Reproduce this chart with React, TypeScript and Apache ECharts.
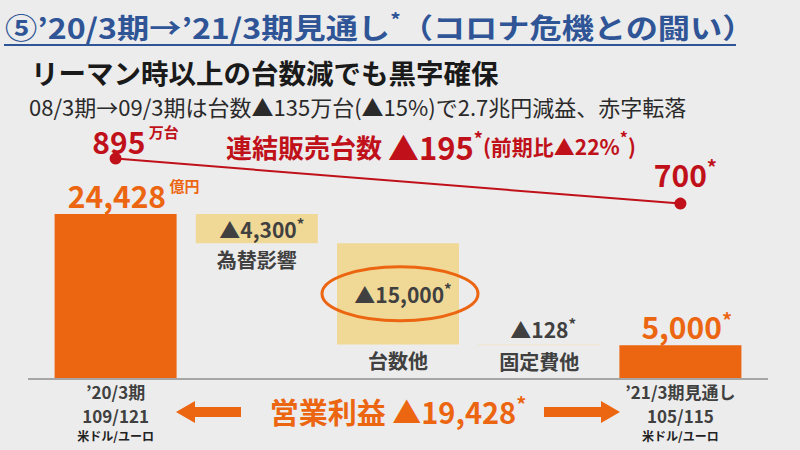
import React, { useEffect, useRef } from "react";
import * as echarts from "echarts";

const categories = ["’20/3期", "為替影響", "台数他", "固定費他", "’21/3期見通し"];
const rates = ["109/121", "", "", "", "105/115"];
const baseValues = [0, 20128, 5128, 5000, 0];
const deltaValues = [24428, 4300, 15000, 128, 5000];
const barLabels = ["24,428", "▲4,300", "▲15,000", "▲128", "5,000"];
const unitSales = [895, null, null, null, 700];
const unitLabels = ["895", "", "", "", "700"];

const ORANGE = "#EC6511";
const YELLOW = "#F0D896";
const RED = "#C0111A";
const BLUE = "#2F5597";
const GRAY = "#404040";
const FONT = "'Noto Sans CJK JP', 'Noto Sans', sans-serif";

export default function App() {
  const ref = useRef<HTMLDivElement>(null);
  useEffect(() => {
    document.body.style.margin = "0";
    const chart = echarts.init(ref.current!, null, { renderer: "svg" });
    const valueRich = {
      v: { fontSize: 21, fontWeight: "bold", color: GRAY, lineHeight: 26, fontFamily: FONT },
      s: { fontSize: 15, fontWeight: "bold", color: GRAY, verticalAlign: "top", lineHeight: 26, fontFamily: FONT },
      o: { fontSize: 30, fontWeight: "bold", color: ORANGE, lineHeight: 34, fontFamily: FONT },
      ou: { fontSize: 15, fontWeight: "bold", color: ORANGE, verticalAlign: "top", lineHeight: 34, fontFamily: FONT },
      q: { fontSize: 20, fontWeight: "bold", color: ORANGE, verticalAlign: "top", lineHeight: 34, fontFamily: FONT },
    };
    const deltaData = deltaValues.map((v, i) => {
      const isEnd = i === 0 || i === 4;
      const item: any = {
        value: v,
        itemStyle: { color: isEnd ? ORANGE : i === 3 ? "#F3E3C0" : YELLOW },
        label: { show: true, fontFamily: FONT, rich: valueRich },
      };
      if (i === 0) {
        item.label.position = "top";
        item.label.distance = 2;
        item.label.offset = [18, 0];
        item.label.formatter = `{o|${barLabels[i]}}{ou| 億円}`;
      } else if (i === 4) {
        item.label.position = "top";
        item.label.distance = 2;
        item.label.align = "left";
        item.label.offset = [-39, 0];
        item.label.formatter = `{o|${barLabels[i]}}{q|*}`;
      } else if (i === 3) {
        item.label.position = "top";
        item.label.distance = 2;
        item.label.offset = [4, 0];
        item.label.formatter = `{v|${barLabels[i]}}{s|*}`;
      } else {
        item.label.position = "inside";
        item.label.offset = [5, 0];
        item.label.formatter = `{v|${barLabels[i]}}{s|*}`;
      }
      return item;
    });
    const baseData = baseValues.map((v, i) => ({
      value: v,
      label: {
        show: i > 0 && i < 4,
        position: "insideTop",
        distance: 6,
        formatter: categories[i],
        fontSize: 20,
        fontWeight: "bold",
        color: GRAY,
        fontFamily: FONT,
      },
    }));
    const lineData = unitSales.map((v, i) => ({
      value: v,
      label: {
        show: v != null,
        position: "top",
        distance: 4,
        offset: i === 0 ? [20, 9] : [5, -3],
        formatter: i === 0 ? `{n|${unitLabels[i]}}{u| 万台}` : `{n|${unitLabels[i]}}{s|*}`,
        rich: {
          n: { fontSize: 30, fontWeight: "bold", color: RED, lineHeight: 34, fontFamily: FONT },
          u: { fontSize: 15, fontWeight: "bold", color: RED, verticalAlign: "top", lineHeight: 34, fontFamily: FONT },
          s: { fontSize: 20, fontWeight: "bold", color: RED, verticalAlign: "top", lineHeight: 34, fontFamily: FONT },
        },
      },
    }));

    chart.setOption({
      animation: false,
      backgroundColor: "#ECECEC",
      textStyle: { fontFamily: FONT },
      grid: { left: 45, right: 49, top: 109, bottom: 71 },
      xAxis: {
        type: "category",
        data: categories,
        axisLine: { show: false },
        axisTick: { show: false },
        axisLabel: {
          interval: 0,
          margin: 0,
          formatter: (val: string, idx: number) =>
            rates[idx] ? `{p|${val}}\n{r|${rates[idx]}}\n{u|米ドル/ユーロ}` : "",
          rich: {
            p: { fontSize: 17, fontWeight: "bold", color: GRAY, lineHeight: 24, fontFamily: FONT },
            r: { fontSize: 17, fontWeight: "bold", color: GRAY, lineHeight: 24, fontFamily: FONT },
            u: { fontSize: 12, fontWeight: "bold", color: "#222", lineHeight: 16, fontFamily: FONT },
          },
        },
      },
      yAxis: [
        { type: "value", min: 0, max: 40000, show: false },
        { type: "value", min: -60, max: 1110, show: false },
      ],
      series: [
        {
          type: "bar",
          stack: "w",
          barWidth: 122,
          itemStyle: { color: "transparent" },
          data: baseData,
          z: 2,
        },
        {
          type: "bar",
          stack: "w",
          barWidth: 122,
          data: deltaData,
          z: 2,
        },
        {
          type: "line",
          yAxisIndex: 1,
          connectNulls: true,
          data: lineData,
          symbol: "circle",
          symbolSize: 12,
          lineStyle: { color: RED, width: 2 },
          itemStyle: { color: RED },
          z: 5,
        },
      ],
    });

    const c = chart.convertToPixel({ xAxisIndex: 0, yAxisIndex: 0 }, [2, baseValues[2] + deltaValues[2] / 2]) as number[];

    chart.setOption({
      graphic: [
        {
          type: "text",
          x: 5,
          y: 27,
          scaleX: 1.15,
          style: {
            text: "{t|⑤’20/3期→’21/3期見通し}{s|*}{t|（コロナ危機との闘い）}",
            verticalAlign: "middle",
            rich: {
              t: { fontSize: 28, fontWeight: "bold", fill: BLUE, fontFamily: FONT, lineHeight: 32 },
              s: { fontSize: 18, fontWeight: "bold", fill: BLUE, fontFamily: FONT, verticalAlign: "top", lineHeight: 32 },
            },
          },
        },
        { type: "line", shape: { x1: 4, y1: 45, x2: 736, y2: 45 }, style: { stroke: BLUE, lineWidth: 2 } },
        {
          type: "text",
          x: 31,
          y: 72,
          style: {
            text: "リーマン時以上の台数減でも黒字確保",
            verticalAlign: "middle",
            fontSize: 27.5,
            lineHeight: 28,
            fontWeight: "bold",
            fill: "#1A1A1A",
            fontFamily: FONT,
          },
        },
        {
          type: "text",
          x: 29,
          y: 106,
          style: {
            text: "08/3期→09/3期は台数▲135万台(▲15%)で2.7兆円減益、赤字転落",
            verticalAlign: "middle",
            fontSize: 22,
            lineHeight: 22,
            fill: "#2A2A2A",
            fontFamily: FONT,
          },
        },
        {
          type: "text",
          x: 226,
          y: 146,
          style: {
            text: "{a|連結販売台数 }{b|▲195}{s|*}{c|(前期比▲22%}{s2|*}{c|)}",
            verticalAlign: "middle",
            rich: {
              a: { fontSize: 26, fontWeight: "bold", fill: RED, fontFamily: FONT, lineHeight: 34 },
              b: { fontSize: 31, fontWeight: "bold", fill: RED, fontFamily: FONT, lineHeight: 34 },
              s: { fontSize: 18, fontWeight: "bold", fill: RED, fontFamily: FONT, verticalAlign: "top", lineHeight: 34 },
              c: { fontSize: 21, fontWeight: "bold", fill: RED, fontFamily: FONT, lineHeight: 34 },
              s2: { fontSize: 16, fontWeight: "bold", fill: RED, fontFamily: FONT, verticalAlign: "top", lineHeight: 30 },
            },
          },
        },
        { type: "line", shape: { x1: 28, y1: 379, x2: 768, y2: 379 }, style: { stroke: "#A6A6A6", lineWidth: 2 }, z: 10 },
        {
          type: "ellipse",
          shape: { cx: c[0] + 2, cy: c[1], rx: 78, ry: 27 },
          style: { fill: "none", stroke: ORANGE, lineWidth: 3 },
          z: 10,
        },
        {
          type: "polygon",
          shape: { points: [[176, 412], [195, 401], [195, 407], [241, 407], [241, 417], [195, 417], [195, 423]] },
          style: { fill: ORANGE },
        },
        {
          type: "polygon",
          shape: { points: [[620, 412], [601, 401], [601, 407], [544, 407], [544, 417], [601, 417], [601, 423]] },
          style: { fill: ORANGE },
        },
        {
          type: "text",
          x: 398,
          y: 411,
          style: {
            text: "{a|営業利益 ▲19,428}{s|*}",
            align: "center",
            verticalAlign: "middle",
            rich: {
              a: { fontSize: 29, fontWeight: "bold", fill: ORANGE, fontFamily: FONT, lineHeight: 36 },
              s: { fontSize: 20, fontWeight: "bold", fill: ORANGE, fontFamily: FONT, verticalAlign: "top", lineHeight: 36 },
            },
          },
        },
      ],
    });

    return () => chart.dispose();
  }, []);
  return <div ref={ref} style={{ width: 800, height: 450 }} />;
}
